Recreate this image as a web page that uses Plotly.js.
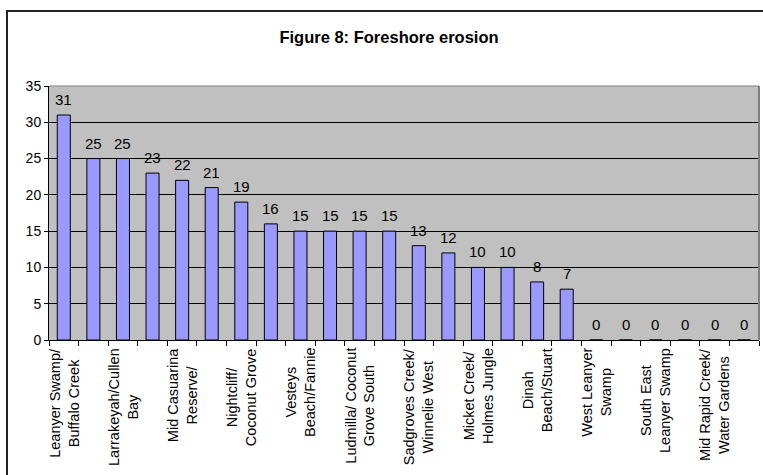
<!DOCTYPE html>
<html>
<head>
<meta charset="utf-8">
<script src="https://cdn.plot.ly/plotly-3.0.1.min.js"></script>
<style>
  html, body { margin: 0; padding: 0; background: #fff; overflow: hidden; }
  #chart { position: absolute; left: 0; top: 0; width: 763px; height: 475px; }
  #frame { position: absolute; left: 6px; top: 10px; width: 820px; height: 520px;
           border-left: 2px solid #222; border-top: 2px solid #222; pointer-events: none; }
</style>
</head>
<body>
<div id="chart"></div>
<div id="frame"></div>
<script>
// Values for the 24 sites (left to right)
const values = [31, 25, 25, 23, 22, 21, 19, 16, 15, 15, 15, 15, 13, 12, 10, 10, 8, 7, 0, 0, 0, 0, 0, 0];
// Category labels shown under every other bar (Excel skipped the rest)
const shownLabels = [
  "Leanyer Swamp/<br>Buffalo Creek",
  "Larrakeyah/Cullen<br>Bay",
  "Mid Casuarina<br>Reserve/",
  "Nightcliff/<br>Coconut Grove",
  "Vesteys<br>Beach/Fannie",
  "Ludmilla/ Coconut<br>Grove South",
  "Sadgroves Creek/<br>Winnelie West",
  "Micket Creek/<br>Holmes Jungle",
  "Dinah<br>Beach/Stuart",
  "West Leanyer<br>Swamp",
  "South East<br>Leanyer Swamp",
  "Mid Rapid Creek/<br>Water Gardens"
];
const yTicks = [0, 5, 10, 15, 20, 25, 30, 35];
const titleText = "Figure 8: Foreshore erosion";

const FONT = "Liberation Sans, Arial, sans-serif";
const xPos = values.map((v, i) => i);
const boundaries = values.map((v, i) => i - 0.5).concat([values.length - 0.5]);

const trace = {
  type: "bar",
  x: xPos,
  y: values,
  marker: { color: "#9999FF", line: { color: "#000000", width: 1 } },
  hoverinfo: "skip"
};

const annotations = [];
values.forEach((v, i) => {
  annotations.push({
    x: i, y: v, xref: "x", yref: "y",
    text: String(v), showarrow: false,
    xanchor: "center", yanchor: "bottom", yshift: 5,
    font: { family: FONT, size: 15, color: "#000" }
  });
});
shownLabels.forEach((lab, k) => {
  annotations.push({
    x: 2 * k, y: 0, xref: "x", yref: "y",
    text: lab, showarrow: false, textangle: -90, align: "center",
    xanchor: "center", yanchor: "top", yshift: -6,
    font: { family: FONT, size: 14.5, color: "#000" }
  });
});

const layout = {
  width: 763, height: 475,
  margin: { l: 49, r: 4, t: 86, b: 135 },
  paper_bgcolor: "#ffffff",
  plot_bgcolor: "#C0C0C0",
  showlegend: false,
  bargap: 0.56,
  title: {
    text: "<b>" + titleText + "</b>",
    font: { family: FONT, size: 16.5, color: "#000" },
    xref: "container", yref: "container",
    x: 389 / 763, y: 1 - 37 / 475, xanchor: "center", yanchor: "middle"
  },
  xaxis: {
    range: [-0.5, values.length - 0.5],
    tickmode: "array", tickvals: boundaries, showticklabels: false,
    ticks: "outside", ticklen: 5, tickcolor: "#000", tickwidth: 1,
    showgrid: false, zeroline: false,
    showline: true, linecolor: "#000", linewidth: 1,
    fixedrange: true
  },
  yaxis: {
    range: [0, 35],
    tickmode: "array", tickvals: yTicks,
    ticks: "outside", ticklen: 4, tickcolor: "#000", tickwidth: 1,
    tickfont: { family: FONT, size: 14, color: "#000" },
    showgrid: true, gridcolor: "#000", gridwidth: 1,
    zeroline: false,
    showline: true, linecolor: "#000", linewidth: 1,
    fixedrange: true
  },
  shapes: [
    { type: "line", xref: "paper", yref: "paper", x0: 0, x1: 1, y0: 1, y1: 1,
      line: { color: "#808080", width: 1 } },
    { type: "line", xref: "paper", yref: "paper", x0: 1, x1: 1, y0: 0, y1: 1,
      line: { color: "#808080", width: 2 } }
  ],
  annotations: annotations
};

Plotly.newPlot("chart", [trace], layout, { displayModeBar: false, staticPlot: true });
</script>
</body>
</html>
